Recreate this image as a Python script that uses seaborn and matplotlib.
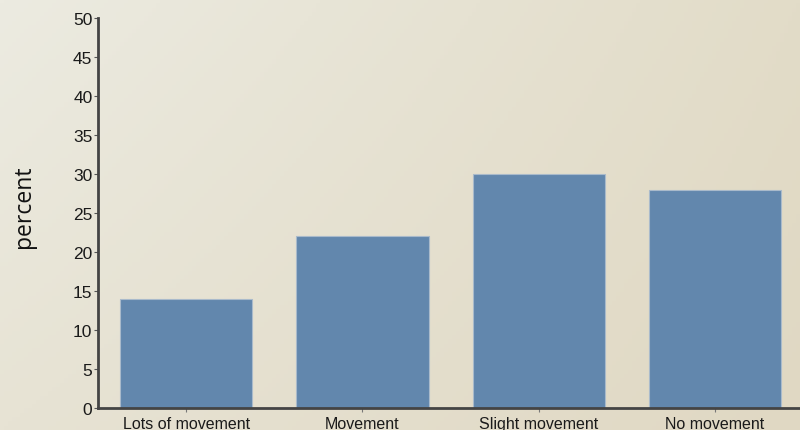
import numpy as np
import pandas as pd
import matplotlib
matplotlib.use("Agg")
import matplotlib.pyplot as plt
import seaborn as sns

categories = ["Lots of movement", "Movement", "Slight movement", "No movement"]
percent = [14, 22, 30, 28]
y_ticks = [0, 5, 10, 15, 20, 25, 30, 35, 40, 45, 50]

sns.set_style("ticks")
plt.rcParams["font.family"] = ["Liberation Sans", "DejaVu Sans"]

fig = plt.figure(figsize=(8, 4.31), dpi=100)

# warm beige backdrop, lighter at the top-left corner
bg = fig.add_axes([0, 0, 1, 1], zorder=-10)
h, w = 100, 200
xx, yy = np.meshgrid(np.linspace(0, 1, w), np.linspace(0, 1, h))
tl = np.array([236, 235, 225]) / 255
tr = np.array([226, 220, 200]) / 255
bl = np.array([231, 227, 212]) / 255
br = np.array([224, 216, 195]) / 255
img = (tl * ((1 - xx) * (1 - yy))[..., None] + tr * (xx * (1 - yy))[..., None]
       + bl * ((1 - xx) * yy)[..., None] + br * (xx * yy)[..., None])
bg.imshow(img, aspect="auto", extent=[0, 1, 0, 1], origin="upper")
bg.set_axis_off()

ax = fig.add_axes([0.1225, 0.051, 0.8815, 0.905])
ax.set_facecolor("none")

df = pd.DataFrame({"category": categories, "percent": percent})
sns.barplot(data=df, x="category", y="percent", color="#6287ad", saturation=1,
            width=0.75, edgecolor="#a9bacb", linewidth=0.8, ax=ax)

ax.set_xlim(-0.5, 3.5)
ax.set_ylim(0, 50)
ax.set_yticks(y_ticks)
ax.set_xlabel("")
ax.set_ylabel("")
ax.tick_params(axis="y", labelsize=12.5, length=3, width=0.8, color="#555555",
               pad=1, labelcolor="#1a1a1a")
ax.tick_params(axis="x", labelsize=11.5, length=3, width=0.8, color="#777777",
               pad=3, labelcolor="#1a1a1a")

sns.despine(ax=ax)
for side in ("left", "bottom"):
    ax.spines[side].set_color("#444444")
    ax.spines[side].set_linewidth(2)

fig.text(0.03, 0.52, "percent", rotation=90, ha="center", va="center",
         fontsize=16.5, family=["Open Sans", "DejaVu Sans"], color="#111111")

fig.savefig("out.png", dpi=100)
